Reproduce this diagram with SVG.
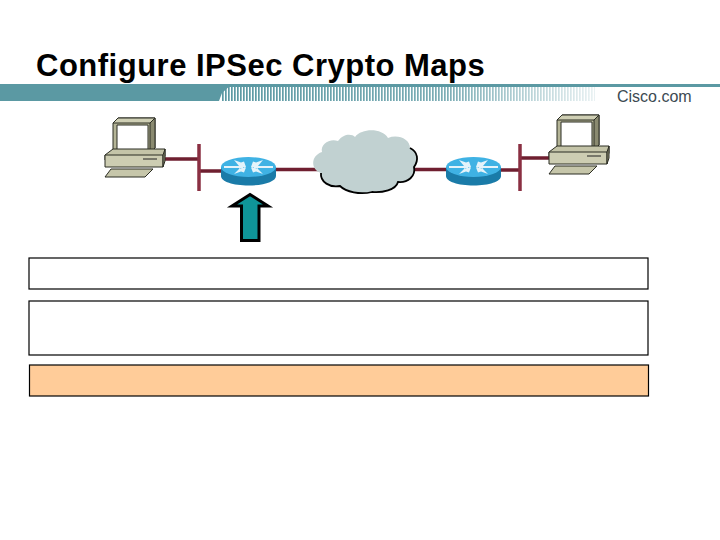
<svg xmlns="http://www.w3.org/2000/svg" width="720" height="540" viewBox="0 0 720 540">
<style>
.wire{stroke:#6f1f30;stroke-width:3.500;fill:none}
.bar{stroke:#8a2f42;stroke-width:3.500;fill:none}
.box{fill:#fff;stroke:#000;stroke-width:1.200}
.pc{stroke:#2b2c22;stroke-width:1;stroke-linejoin:round}
.t{font-family:"Liberation Sans",Arial,sans-serif}
</style>
<defs>
<linearGradient id="fade" x1="222" y1="0" x2="595" y2="0" gradientUnits="userSpaceOnUse">
<stop offset="0" stop-color="#fff"/><stop offset="0.6" stop-color="#ccc"/><stop offset="1" stop-color="#222"/>
</linearGradient>
<mask id="fm" maskUnits="userSpaceOnUse" x="215" y="84" width="385" height="20"><rect x="215" y="84" width="385" height="20" fill="url(#fade)"/></mask>
<pattern id="stripes" x="222" y="0" width="3" height="20" patternUnits="userSpaceOnUse"><rect width="1.700" height="20" fill="#5b99a3"/></pattern>
<g id="pcShape">
<path class="pc" fill="#b5b597" d="M8 13L13 8H50V38L45 43H8Z"/>
<path class="pc" fill="#8a8a70" d="M45 13L50 8V38L45 43Z"/>
<path class="pc" fill="#cfcfb4" d="M8 13L13 8H50L45 13Z"/>
<rect class="pc" x="12" y="15" width="31" height="25" fill="#fff"/>
<path class="pc" fill="#c4c4a8" d="M0 45L8 39H60V46L58 50L0 50Z"/>
<path class="pc" fill="#cdcdb2" d="M0 45H58V57H0Z"/>
<path class="pc" fill="#8a8a70" d="M58 45L60 39V51L58 57Z"/>
<line x1="38" y1="49" x2="52" y2="49" stroke="#222" stroke-width="1"/>
<path class="pc" fill="#c6c6aa" d="M6 59H48L40 67H0Z"/>
</g>
<g id="routerShape">
<path d="M0 10V19C0 24.500 12 28.500 27.500 28.500S55 24.500 55 19V10Z" fill="#1a7ba8"/>
<ellipse cx="27.500" cy="10" rx="27.500" ry="10" fill="#3fb2e4"/>
<path d="M13 3L20 5.500L23 4.500L25 10L19 11.500L18 9ZM42 3L35 5.500L32 4.500L30 10L36 11.500L37 9ZM13 17L20 14.500L23 15.500L25 10.500L19 9.500L18 12ZM42 17L35 14.500L32 15.500L30 10.500L36 9.500L37 12Z" fill="#e4f3fa"/>
<path d="M3 10H22M33 10H52" stroke="#e4f3fa" stroke-width="2" fill="none"/>
</g>
</defs>

<g id="header">
<rect x="0" y="84" width="720" height="3" fill="#5b99a3"/>
<path d="M0 84H232L222 93L219 101H0Z" fill="#5b99a3"/>
<rect x="222" y="87" width="373" height="14" fill="url(#stripes)" mask="url(#fm)"/>
<text id="title" class="t" x="36" y="75.500" font-size="31" font-weight="700" letter-spacing="0.5" fill="#000">Configure IPSec Crypto Maps</text>
<text id="logo" class="t" x="617" y="101.500" font-size="16" fill="#3c4a52">Cisco.com</text>
</g>

<g id="connectors">
<path class="wire" d="M163 159H199M199 171H222M275 169.500H320M410 169.500H447M501 170H520M520 158H550"/>
<line class="bar" x1="199" y1="144" x2="199" y2="191"/>
<line class="bar" x1="520" y1="144" x2="520" y2="191"/>
</g>

<g id="pc-left"><use href="#pcShape" transform="translate(105,110)"/></g>
<g id="router-left"><use href="#routerShape" transform="translate(221,157)"/></g>
<g id="cloud">
<path d="M322 152C320 144 330 138 338 141C344 133 352 134 355 137C362 128 382 128 388 138C398 134 410 139 410 148C418 152 419 160 414 167C416 176 408 183 398 182C396 190 382 193 372 192C360 195 346 192 340 186C330 188 320 182 321 173C311 170 310 156 322 152Z" fill="#c1d1d1"/>
<path d="M410 148C418 152 419 160 414 167C416 176 408 183 398 182C396 190 382 193 372 192C360 195 346 192 340 186C330 188 320 182 321 173" fill="none" stroke="#000" stroke-width="1.800"/>
</g>
<g id="router-right"><use href="#routerShape" transform="translate(446,157)"/></g>
<g id="pc-right"><use href="#pcShape" transform="translate(549,107)"/></g>

<g id="arrow"><path d="M250 194.500L268 206H259V240.500H241.500V206H232Z" fill="#0f9599" stroke="#000" stroke-width="3" stroke-linejoin="miter"/></g>

<g id="box1"><rect class="box" x="29" y="258" width="619" height="31"/></g>
<g id="box2"><rect class="box" x="29" y="301" width="619" height="54"/></g>
<g id="box3"><rect class="box" x="29.500" y="365" width="619" height="31" style="fill:#ffcc99"/></g>
</svg>
